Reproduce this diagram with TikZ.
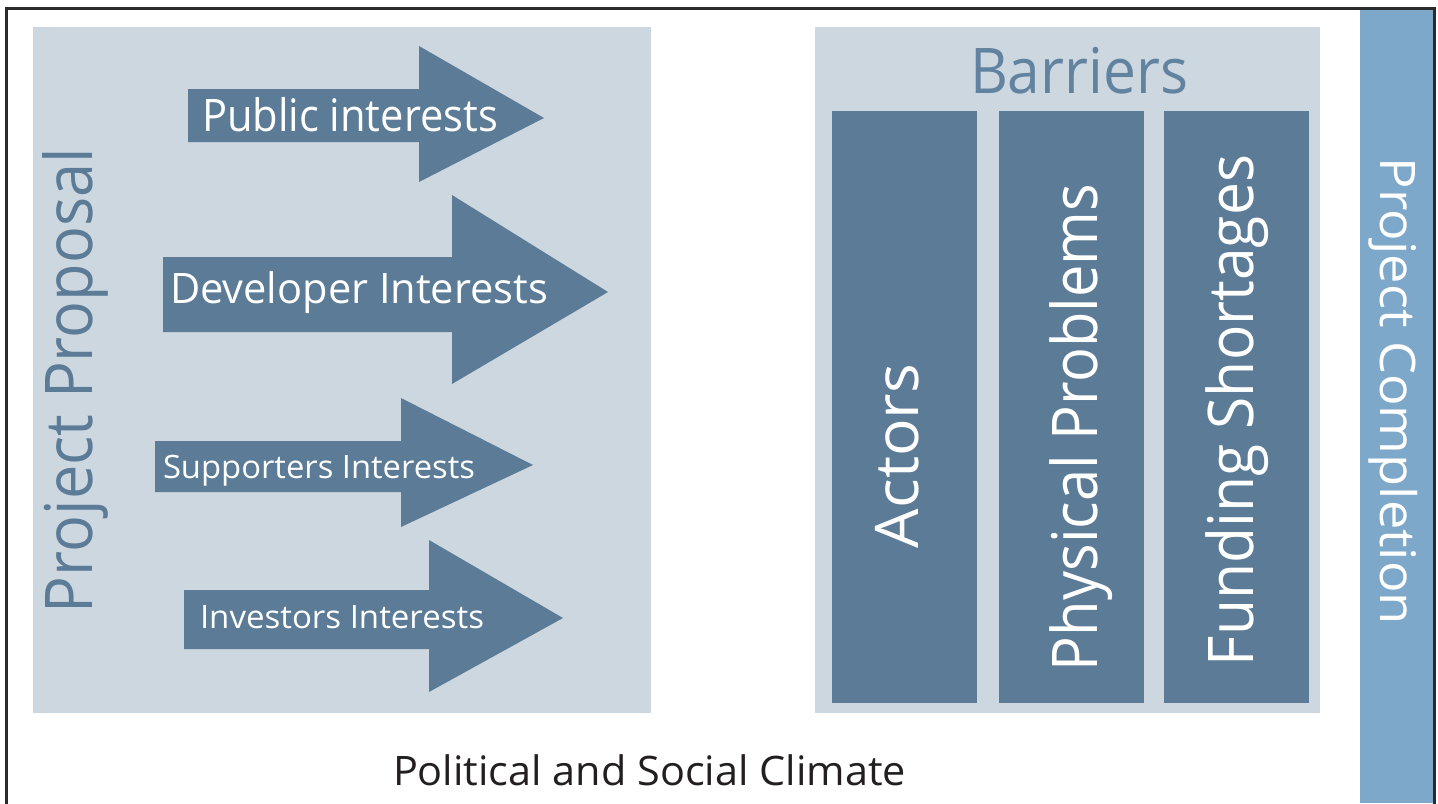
\documentclass[tikz,border=0pt]{standalone}
\usepackage{fontspec}
\setmainfont{Open Sans}
\usepackage{graphicx}
\newdimen\pxu \pxu=0.75pt
\newcommand{\fittext}[3]{{\fontsize{\the\dimexpr #2\pxu*1000/714\relax}{\the\dimexpr #2\pxu*1400/714\relax}\selectfont\resizebox{#1\pxu}{\height}{#3}}}
\definecolor{lightbox}{HTML}{CDD7E0}
\definecolor{steel}{HTML}{5B7B96}
\definecolor{barblue}{HTML}{7EA8CA}
\definecolor{framecol}{HTML}{2B2B2B}
\definecolor{inkblack}{HTML}{231F20}
\definecolor{titleblue}{HTML}{6283A0}
\tikzset{
  wtxt/.style={inner sep=0pt, outer sep=0pt, text=white},
  panel/.style={fill=lightbox, draw=none},
  column/.style={fill=steel, draw=none},
  bigarrow/.style={fill=steel, draw=none}
}
\begin{document}
\begin{tikzpicture}[x=0.75pt,y=-0.75pt]
\useasboundingbox (0,0) rectangle (1438,803);
% frame
\draw[framecol, line width=2.2pt] (6.5,810) -- (6.5,8.5) -- (1434.5,8.5) -- (1434.5,810);
% right bar
\fill[barblue] (1360,10) rectangle (1433,803);
% panels
\fill[panel] (33,27) rectangle (651,713);
\fill[panel] (815,27) rectangle (1320,713);
% columns
\fill[column] (832,111) rectangle (977,703);
\fill[column] (999,111) rectangle (1144,703);
\fill[column] (1164,111) rectangle (1309,703);
% arrows
\fill[bigarrow] (188,89) -- (419,89) -- (419,46) -- (544,118) -- (419,182) -- (419,142) -- (188,142) -- cycle;
\fill[bigarrow] (163,257) -- (452,257) -- (452,195) -- (608,292) -- (452,384) -- (452,332) -- (163,332) -- cycle;
\fill[bigarrow] (155,441) -- (401,441) -- (401,398) -- (533,465) -- (401,527) -- (401,492) -- (155,492) -- cycle;
\fill[bigarrow] (184,590) -- (429,590) -- (429,540) -- (563,618) -- (429,692) -- (429,649) -- (184,649) -- cycle;
% arrow labels
\node[wtxt, anchor=base west] (pub) at (202,131) {\fittext{296}{32}{Public interests}};
\node[wtxt, anchor=base west] (dev) at (170,303) {\fittext{378}{30}{Developer Interests}};
\node[wtxt, anchor=base west] (sup) at (163,478) {\fittext{312}{23}{Supporters Interests}};
\node[wtxt, anchor=base west] (inv) at (200,628) {\fittext{284}{23}{Investors Interests}};
% vertical labels
\node[wtxt, text=steel, rotate=90, anchor=base] (prop) at (92,380.5) {\fittext{465}{47}{Project Proposal}};
\node[wtxt, rotate=90, anchor=base] (act) at (918,456) {\fittext{184}{43}{Actors}};
\node[wtxt, rotate=90, anchor=base] (phys) at (1097,427.5) {\fittext{487}{45}{Physical Problems}};
\node[wtxt, rotate=90, anchor=base] (fund) at (1253,410.5) {\fittext{511}{45}{Funding Shortages}};
\node[wtxt, rotate=-90, anchor=base] (comp) at (1380,391.5) {\fittext{467}{35}{Project Completion}};
% titles
\node[wtxt, text=titleblue, anchor=base west] (bar) at (970,93) {\fittext{218}{45}{Barriers}};
\node[wtxt, text=inkblack, anchor=base west] (clim) at (393,785) {\fittext{513}{29}{Political and Social Climate}};
\end{tikzpicture}
\end{document}
